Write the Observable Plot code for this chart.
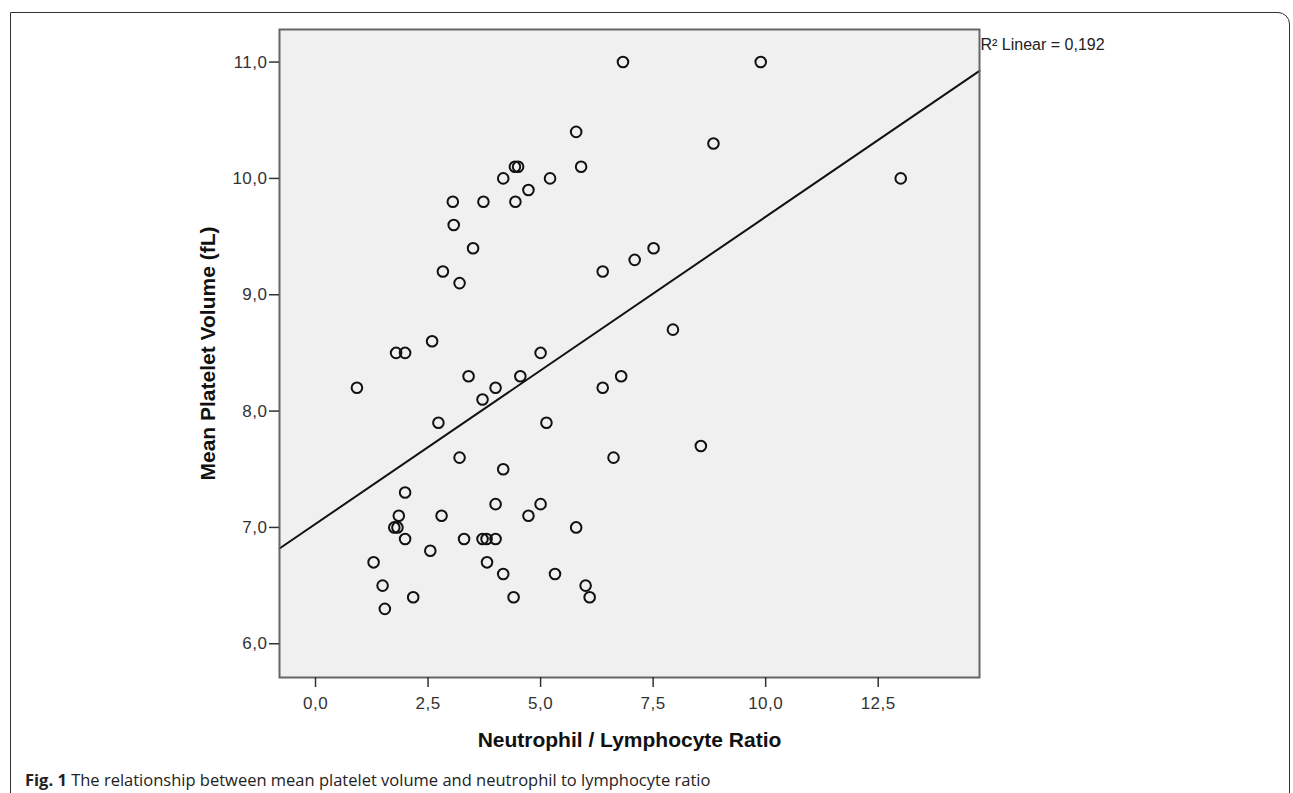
<!DOCTYPE html>
<html>
<head>
<meta charset="utf-8">
<script src="https://cdn.jsdelivr.net/npm/d3@7"></script>
<script src="https://cdn.jsdelivr.net/npm/@observablehq/plot@0.6"></script>
<style>
  html, body { margin: 0; padding: 0; background: #fff; }
  body { width: 1293px; height: 793px; overflow: hidden; position: relative; font-family: "Liberation Sans", Arial, sans-serif; }
  #box { position: absolute; left: 10px; top: 12px; width: 1280px; height: 830px; border: 1.5px solid #333; border-top-right-radius: 12px; box-sizing: border-box; }
  #chart { position: relative; }
  #chart svg { display: block; }
  #chart svg g[aria-label$="tick label"] { letter-spacing: 0.5px; }
  #caption { position: relative; padding-left: 25px; font-family: "Open Sans", sans-serif; font-size: 16.5px; line-height: 20px; color: #222; white-space: nowrap; }
  #caption b { font-weight: 700; }
</style>
</head>
<body>
<div id="box"></div>
<div id="chart"></div>
<div id="caption"><b>Fig. 1</b> The relationship between mean platelet volume and neutrophil to lymphocyte ratio</div>
<script>
// Neutrophil / Lymphocyte Ratio (x)
const nlr = [
  6.83, 9.89, 5.79, 8.84, 4.43, 4.50, 5.90, 4.17, 5.21, 13.0,
  4.73, 3.05, 3.73, 4.44, 3.07, 3.50, 7.51, 7.09, 2.83, 6.38,
  3.20, 7.94, 0.92, 1.79, 1.99, 2.59, 5.00, 3.40, 4.55, 6.79,
  4.00, 6.38, 3.71, 2.73, 5.13, 8.56, 3.20, 6.62, 4.17, 1.99,
  4.00, 5.00, 1.85, 2.80, 4.73, 1.75, 1.82, 5.79, 1.99, 3.30,
  3.71, 3.80, 4.00, 2.55, 1.29, 3.81, 4.17, 5.32, 1.49, 6.00,
  2.17, 4.40, 6.09, 1.54
];
// Mean Platelet Volume (fL) (y)
const mpv = [
  11.0, 11.0, 10.4, 10.3, 10.1, 10.1, 10.1, 10.0, 10.0, 10.0,
  9.9, 9.8, 9.8, 9.8, 9.6, 9.4, 9.4, 9.3, 9.2, 9.2,
  9.1, 8.7, 8.2, 8.5, 8.5, 8.6, 8.5, 8.3, 8.3, 8.3,
  8.2, 8.2, 8.1, 7.9, 7.9, 7.7, 7.6, 7.6, 7.5, 7.3,
  7.2, 7.2, 7.1, 7.1, 7.1, 7.0, 7.0, 7.0, 6.9, 6.9,
  6.9, 6.9, 6.9, 6.8, 6.7, 6.7, 6.6, 6.6, 6.5, 6.5,
  6.4, 6.4, 6.4, 6.3
];
const xTicks = [0, 2.5, 5, 7.5, 10, 12.5];
const yTicks = [6, 7, 8, 9, 10, 11];
const xDomain = [-0.8, 14.75];
const yDomain = [5.71, 11.28];
// SPSS linear fit (R² = 0,192)
const fitIntercept = 7.03;
const fitSlope = 0.264;
const r2Label = "R² Linear = 0,192";
const xLabel = "Neutrophil / Lymphocyte Ratio";
const yLabel = "Mean Platelet Volume (fL)";

const points = nlr.map((x, i) => ({x, y: mpv[i]}));
const fitLine = xDomain.map(x => ({x, y: fitIntercept + fitSlope * x}));
const fmt = d => d.toFixed(1).replace(".", ",");

const chart = Plot.plot({
  width: 1293,
  height: 770,
  marginLeft: 279,
  marginRight: 314,
  marginTop: 29,
  marginBottom: 93,
  style: { fontFamily: "'Liberation Sans', Arial, sans-serif", fontSize: "17px", color: "#333", background: "transparent" },
  x: { domain: xDomain },
  y: { domain: yDomain },
  marks: [
    Plot.frame({ fill: "#f0f0f0", stroke: "none" }),
    Plot.dot(points, { x: "x", y: "y", r: 5.3, stroke: "#111", strokeWidth: 2, fill: "none" }),
    Plot.line(fitLine, { x: "x", y: "y", stroke: "#111", strokeWidth: 2 }),
    Plot.frame({ stroke: "#666", strokeWidth: 2 }),
    Plot.axisX({ ticks: xTicks, tickFormat: fmt, tickSize: 10, tickPadding: 9, label: null, stroke: "#333", fontSize: 17, strokeWidth: 1.5 }),
    Plot.axisY({ ticks: yTicks, tickFormat: fmt, tickSize: 10, tickPadding: 2, label: null, stroke: "#333", fontSize: 17, strokeWidth: 1.5 }),
    Plot.text([xLabel], { frameAnchor: "bottom", dy: 63, textAnchor: "middle", fontWeight: "bold", fontSize: 21, lineAnchor: "middle", fill: "#111" }),
    Plot.text([yLabel], { frameAnchor: "left", dx: -71, rotate: -90, textAnchor: "middle", fontWeight: "bold", fontSize: 21, lineAnchor: "middle", fill: "#111" }),
    Plot.text([r2Label], { frameAnchor: "top-right", textAnchor: "start", dx: 1, dy: 15, lineAnchor: "middle", fontSize: 16, fill: "#222" })
  ]
});
document.getElementById("chart").appendChild(chart);
</script>
</body>
</html>
